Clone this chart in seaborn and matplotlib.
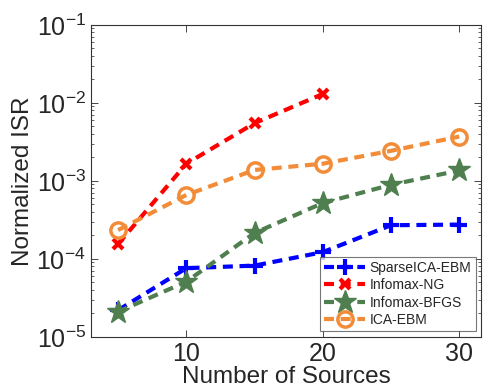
import matplotlib
matplotlib.use("Agg")
import matplotlib.pyplot as plt
import seaborn as sns
import pandas as pd

sources = [5, 10, 15, 20, 25, 30]
sparse_ica_ebm = [2.2e-5, 7.6e-5, 8.2e-5, 1.22e-4, 2.7e-4, 2.75e-4]
infomax_ng = [1.55e-4, 1.66e-3, 5.5e-3, 1.3e-2]
infomax_bfgs = [2.1e-5, 5.1e-5, 2.15e-4, 5.2e-4, 8.9e-4, 1.36e-3]
ica_ebm = [2.34e-4, 6.6e-4, 1.38e-3, 1.66e-3, 2.43e-3, 3.7e-3]

sns.set_style("ticks")
plt.rcParams['font.family'] = ['Liberation Sans', 'DejaVu Sans']
plt.rcParams['mathtext.fontset'] = 'custom'
plt.rcParams['mathtext.rm'] = 'Liberation Sans'
plt.rcParams['mathtext.it'] = 'Liberation Sans'

fig = plt.figure(figsize=(4.83, 3.89), dpi=100)
ax = fig.add_axes([0.188, 0.134, 0.808, 0.802])

series = [
    ("SparseICA-EBM", sources, sparse_ica_ebm, "#0000ff", "+", 12, 3),
    ("Infomax-NG", sources[:4], infomax_ng, "#ff0000", "x", 7, 3),
    ("Infomax-BFGS", sources, infomax_bfgs, "#4f7f4f", "*", 17, 1),
    ("ICA-EBM", sources, ica_ebm, "#f28c38", "o", 11, 2.5),
]

for name, xs, ys, col, mk, ms, mew in series:
    df = pd.DataFrame({"x": xs, "y": ys})
    sns.lineplot(data=df, x="x", y="y", ax=ax, color=col, linestyle=(0, (2.4, 1.6)),
                 linewidth=3, marker=mk, markersize=ms, markeredgewidth=mew,
                 markerfacecolor=("none" if mk == "o" else col), markeredgecolor=col,
                 label=name)

ax.set_yscale("log")
ax.set_ylim(1e-5, 1e-1)
ax.set_xlim(3, 31.6)
ax.set_xticks([10, 20, 30])
ax.tick_params(which="both", direction="in", top=True, right=True)
ax.tick_params(which="major", length=5, width=0.6)
ax.tick_params(which="minor", length=2.5, width=0.5)
for s in ax.spines.values():
    s.set_linewidth(0.8)
    s.set_color("#333333")

ax.set_xlabel("Number of Sources", fontsize=17.5, labelpad=0)
ax.set_ylabel("Normalized ISR", fontsize=17.5, labelpad=2)
for lab in ax.get_xticklabels() + ax.get_yticklabels():
    lab.set_fontsize(18)

leg = ax.legend(loc="lower right", fontsize=10, handlelength=3, frameon=True,
                fancybox=False, borderpad=0.3, labelspacing=0.25, handletextpad=0.3,
                borderaxespad=0.4)
leg.get_frame().set_edgecolor("#555555")
leg.get_frame().set_linewidth(0.8)

fig.savefig("out.png", dpi=100)
